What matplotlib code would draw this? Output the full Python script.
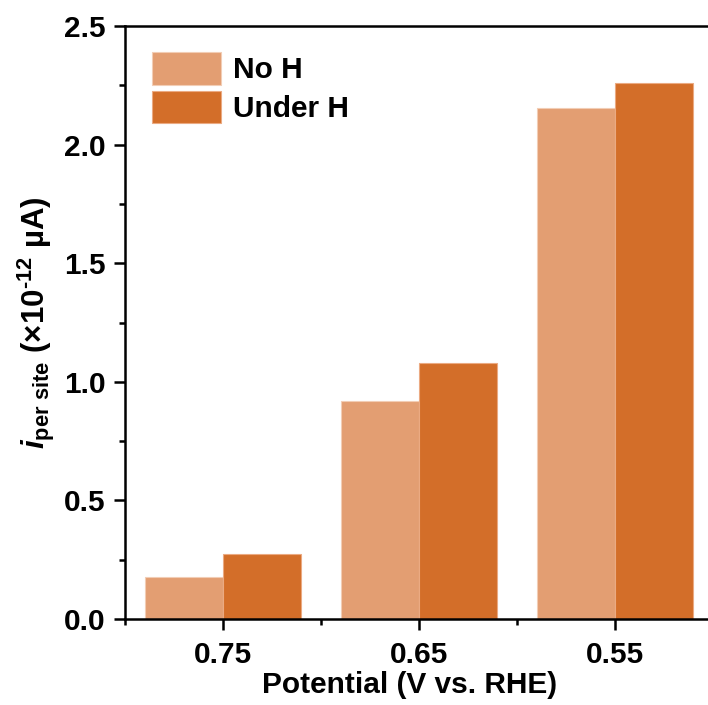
import matplotlib
matplotlib.use("Agg")
from matplotlib import pyplot as plt
from matplotlib.ticker import MultipleLocator, AutoMinorLocator
import numpy as np

# Datos: corriente por sitio a cada potencial
potentials = ["0.75", "0.65", "0.55"]
no_h = [0.177, 0.919, 2.156]
under_h = [0.275, 1.080, 2.261]
series_labels = ["No H", "Under H"]

plt.rcParams["font.family"] = ["Liberation Sans", "DejaVu Sans"]
plt.rcParams["font.weight"] = "bold"
plt.rcParams["mathtext.fontset"] = "custom"
plt.rcParams["mathtext.rm"] = "Liberation Sans:bold"
plt.rcParams["mathtext.it"] = "Liberation Sans:bold:italic"
plt.rcParams["mathtext.bf"] = "Liberation Sans:bold"

fs = 21.5
fig = plt.figure(figsize=(7.08, 7.05), dpi=100)
ax = fig.add_axes([125 / 708, 86 / 705, 588 / 708, 593 / 705])

x = np.arange(len(potentials))
w = 0.4
ax.bar(x - w / 2, no_h, width=w, color="#E39E72", edgecolor="#F2CDB5",
       linewidth=0.8, label=series_labels[0])
ax.bar(x + w / 2, under_h, width=w, color="#D36E29", edgecolor="#EBAA82",
       linewidth=0.8, label=series_labels[1])

ax.set_xlim(-0.5, 2.5)
ax.set_ylim(0, 2.5)
ax.set_xticks(x)
ax.set_xticklabels(potentials)
ax.set_xticks(np.arange(-0.5, 3.0, 1.0), minor=True)
ax.yaxis.set_major_locator(MultipleLocator(0.5))
ax.yaxis.set_minor_locator(AutoMinorLocator(2))

for s in ax.spines.values():
    s.set_linewidth(1.8)
ax.tick_params(which="major", direction="out", length=8, width=1.8,
               labelsize=fs, pad=6)
ax.tick_params(axis="x", which="major", pad=8)
ax.tick_params(which="minor", direction="out", length=4.5, width=1.8)
ax.tick_params(top=False, right=False, which="both")

ax.set_xlabel("Potential (V vs. RHE)", fontsize=fs, fontweight="bold",
              labelpad=1, x=0.484)
ax.set_ylabel(r"$i_{\mathrm{per\ site}}$ (×10$^{\text{-12}}$ µA)",
              fontsize=22.5, fontweight="bold", labelpad=5)

ax.legend(loc="upper left", bbox_to_anchor=(27 / 588, (593 - 26) / 593),
          frameon=False, fontsize=fs, handlelength=2.3, handleheight=1.3,
          handletextpad=0.4, labelspacing=0.2, borderpad=0, borderaxespad=0)

fig.savefig("out.png", dpi=100)
